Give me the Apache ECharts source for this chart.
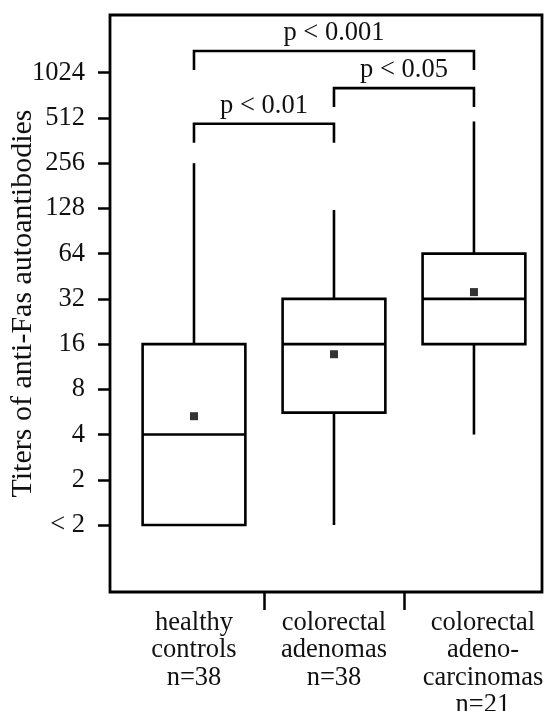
<!DOCTYPE html>
<html>
<head>
<meta charset="utf-8">
<script src="https://cdn.jsdelivr.net/npm/echarts@6/dist/echarts.min.js"></script>
<style>
html,body{margin:0;padding:0;background:#fff;}
#main{width:549px;height:711px;}
</style>
</head>
<body>
<div id="main"></div>
<script>
// groups (x position = index + 1)
var categories = ['healthy\ncontrols\nn=38', 'colorectal\nadenomas\nn=38', 'colorectal\nadeno-\ncarcinomas\nn=21'];
// titers ("< 2" is drawn as 1)
var whiskerLow  = [1, 1, 4];
var quart1      = [1, 5.6, 16];
var medians     = [4, 16, 32];
var quart3      = [16, 32, 64];
var whiskerHigh = [256, 125, 485];
var means       = [5.3, 13.7, 35.5];
// y tick labels, one per power of two
var tickLabels = ['< 2', '2', '4', '8', '16', '32', '64', '128', '256', '512', '1024'];
// significance brackets: from group, to group, height (titer), text
var bracketFrom  = [1, 2, 1];
var bracketTo    = [2, 3, 3];
var bracketLevel = [468, 809, 1428];
var bracketText  = ['p < 0.01', 'p < 0.05', 'p < 0.001'];

var font = 'Liberation Serif';
var fs = 26.5;
var lg = function(v){ return Math.log2(v); };

var boxData = [];
var meanData = [];
for (var i = 0; i < categories.length; i++) {
	boxData.push([i + 1, lg(whiskerLow[i]), lg(quart1[i]), lg(medians[i]), lg(quart3[i]), lg(whiskerHigh[i])]);
	meanData.push([i + 1, lg(means[i])]);
}
var bracketData = [];
for (var j = 0; j < bracketText.length; j++) {
	bracketData.push([bracketFrom[j], bracketTo[j], lg(bracketLevel[j]), j]);
}
var tickVals = tickLabels.map(function(t, k){ return k; });

var myChart = echarts.init(document.getElementById('main'));
var option = {
	backgroundColor: '#fff',
	animation: false,
	grid: {
		left: 110, top: 15, width: 432, height: 577,
		show: true, borderColor: '#000', borderWidth: 2.8,
		containLabel: false, outerBoundsMode: 'none'
	},
	xAxis: {
		type: 'value', min: 0.4, max: 3.486,
		axisLine: {show: false, onZero: false},
		splitLine: {show: false},
		axisTick: {show: true, length: 18, customValues: [1.5, 2.5], lineStyle: {color: '#000', width: 2.5}},
		axisLabel: {
			customValues: [1, 2, 3], margin: 17,
			fontFamily: font, fontSize: fs, lineHeight: 27.5, color: '#111',
			formatter: function(v){
				var k = Math.round(v) - 1;
				var tag = k === 2 ? 'r' : 'n';
				return (categories[k] || '').split('\n').map(function(s){ return '{' + tag + '|' + s + '}'; }).join('\n');
			},
			rich: {
				n: {fontFamily: font, fontSize: fs, lineHeight: 27.5, color: '#111'},
				r: {fontFamily: font, fontSize: fs, lineHeight: 27.5, color: '#111', padding: [0, 0, 0, 18]}
			}
		}
	},
	yAxis: {
		type: 'value', min: -1.481, max: 11.276,
		name: 'Titers of anti-Fas autoantibodies',
		nameLocation: 'middle', nameGap: 72, nameMoveOverlap: false,
		nameTextStyle: {fontFamily: font, fontSize: 30, color: '#111'},
		axisLine: {show: false, onZero: false},
		splitLine: {show: false},
		axisTick: {show: true, length: 12, customValues: tickVals, lineStyle: {color: '#000', width: 2.5}},
		axisLabel: {
			customValues: tickVals, margin: 25,
			fontFamily: font, fontSize: fs, color: '#111',
			formatter: function(v){ return tickLabels[Math.round(v)]; }
		}
	},
	series: [
		{
			type: 'custom',
			name: 'box',
			data: boxData,
			encode: {x: 0, y: [1, 2, 3, 4, 5]},
			renderItem: function(params, api){
				var x = api.value(0);
				var half = api.size([1, 0])[0] * 0.367;
				var pLow = api.coord([x, api.value(1)]);
				var pQ1 = api.coord([x, api.value(2)]);
				var pMed = api.coord([x, api.value(3)]);
				var pQ3 = api.coord([x, api.value(4)]);
				var pHigh = api.coord([x, api.value(5)]);
				var ls = {stroke: '#000', lineWidth: 2.6, fill: null};
				return {
					type: 'group',
					children: [
						{type: 'line', shape: {x1: pHigh[0], y1: pHigh[1], x2: pQ3[0], y2: pQ3[1]}, style: ls},
						{type: 'line', shape: {x1: pQ1[0], y1: pQ1[1], x2: pLow[0], y2: pLow[1]}, style: ls},
						{type: 'rect', shape: {x: pQ3[0] - half, y: pQ3[1], width: half * 2, height: pQ1[1] - pQ3[1]},
							style: {stroke: '#000', lineWidth: 2.6, fill: '#fff'}},
						{type: 'line', shape: {x1: pMed[0] - half, y1: pMed[1], x2: pMed[0] + half, y2: pMed[1]}, style: ls}
					]
				};
			},
			z: 2
		},
		{
			type: 'scatter',
			name: 'mean',
			data: meanData,
			symbol: 'rect',
			symbolSize: 8,
			itemStyle: {color: '#000'},
			z: 3
		},
		{
			type: 'custom',
			name: 'brackets',
			data: bracketData,
			encode: {x: [0, 1], y: 2},
			clip: false,
			renderItem: function(params, api){
				var a = api.coord([api.value(0), api.value(2)]);
				var b = api.coord([api.value(1), api.value(2)]);
				var leg = 19;
				return {
					type: 'group',
					children: [
						{type: 'polyline', shape: {points: [[a[0], a[1] + leg], [a[0], a[1]], [b[0], b[1]], [b[0], b[1] + leg]]},
							style: {stroke: '#000', lineWidth: 2.6, fill: null}},
						{type: 'text', x: (a[0] + b[0]) / 2, y: a[1] - 18,
							style: {text: bracketText[api.value(3)], fontFamily: font, fontSize: fs, fill: '#111',
								align: 'center', verticalAlign: 'middle'}}
					]
				};
			},
			z: 4
		}
	]
};
myChart.setOption(option);
</script>
</body>
</html>
